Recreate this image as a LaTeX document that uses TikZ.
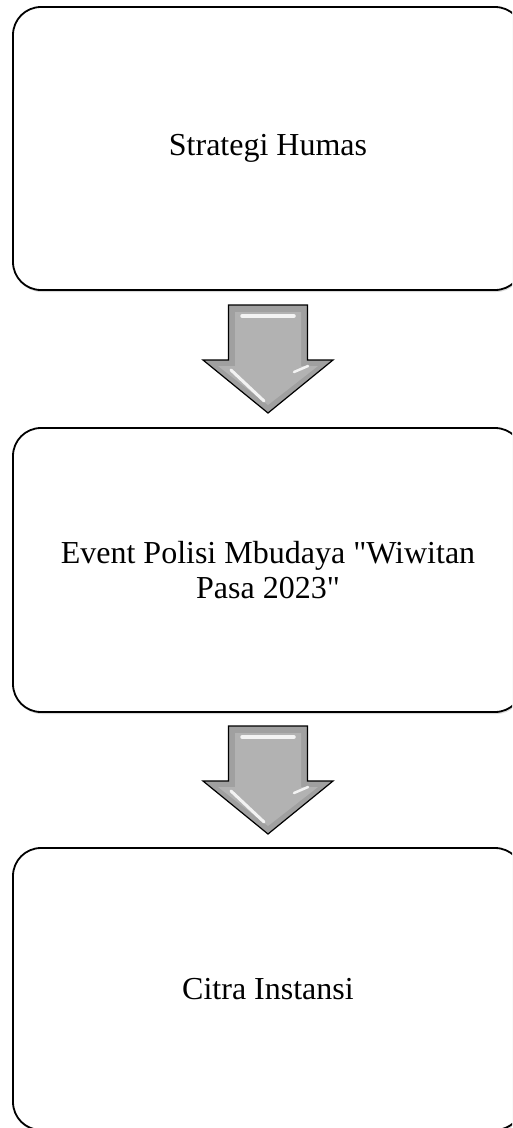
\documentclass[tikz,border=0pt]{standalone}
\usepackage{fontspec}
\setmainfont{Liberation Serif}[Ligatures=TeXOff]
\usetikzlibrary{calc,shadows}
\definecolor{arrowgray}{RGB}{178,178,178}
\definecolor{rimgray}{RGB}{160,160,160}
\tikzset{
  box/.style={draw=black, line width=1.8pt, rounded corners=28pt, minimum width=510pt,
    align=center, fill=white, font=\fontsize{32}{35}\selectfont,
    drop shadow={shadow xshift=0.8pt, shadow yshift=-2pt, opacity=0.3}},
  blockarrow/.style={draw=black, line width=1.2pt, fill=rimgray, line join=miter},
  innerface/.style={fill=arrowgray},
  hilite/.style={white, line width=3.5pt, line cap=round, opacity=0.85},
}
\newcommand{\blockdown}[1]{%
  \begin{scope}[shift={(#1)}]
    \path[blockarrow] (-39.5,-54) -- (39.5,-54) -- (39.5,1) -- (65,1) -- (0,54)
      -- (-65,1) -- (-39.5,1) -- cycle;
    \path[innerface] (-33,-47) -- (33,-47) -- (33,7) -- (50,7) -- (0,46)
      -- (-50,7) -- (-33,7) -- cycle;
    \draw[hilite] (-26,-43) -- (26,-43);
    \draw[hilite, line width=3pt] (-37,11) -- (-4,42);
    \draw[hilite, line width=2.5pt] (26,13) -- (40,7);
  \end{scope}}
\begin{document}
\begin{tikzpicture}[x=1pt,y=-1pt]
  \useasboundingbox (0,0) rectangle (512,1128);
  \clip (0,0) rectangle (512,1128);
  \node[box, minimum height=283pt] (b1) at (268,148.5) {Strategi Humas};
  \node[box, minimum height=284pt] (b2) at (268,570) {Event Polisi Mbudaya "Wiwitan\\Pasa 2023"};
  \node[box, minimum height=282pt] (b3) at (268,989) {Citra Instansi};
  \coordinate (m1) at ($(b1.south)!0.5!(b2.north)$);
  \coordinate (m2) at ($(b2.south)!0.5!(b3.north)$);
  \blockdown{m1}
  \blockdown{m2}
\end{tikzpicture}
\end{document}
